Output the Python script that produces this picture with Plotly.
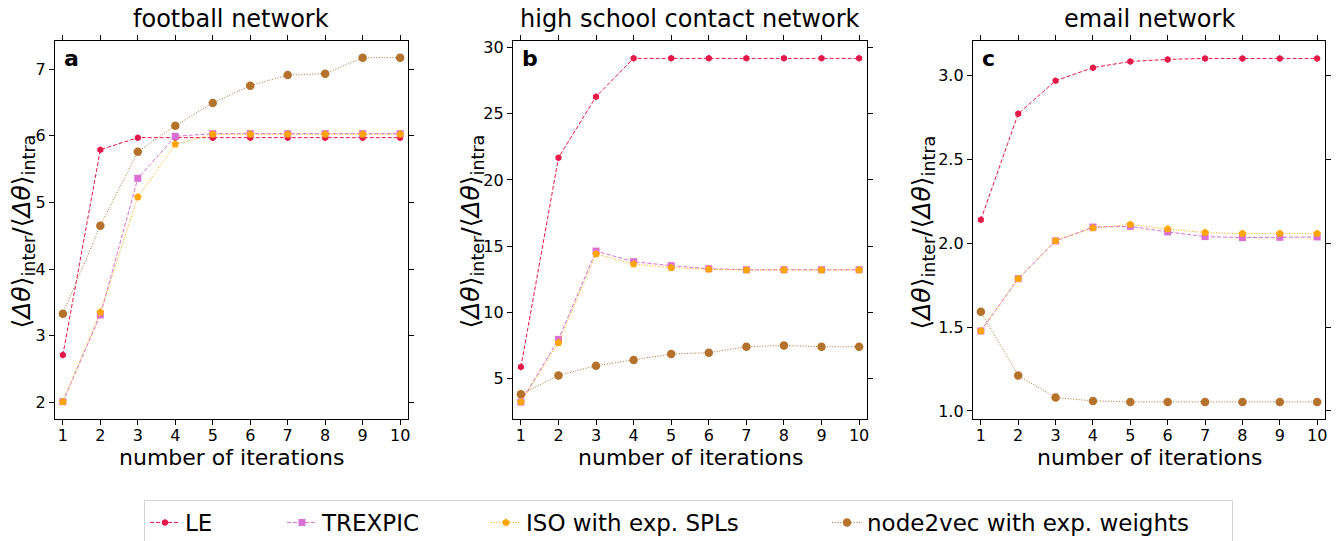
import plotly.graph_objects as go

# Iteration counts shared by all three panels
iterations = list(range(1, 11))

# football network
le_football = [2.71, 5.79, 5.97, 5.97, 5.97, 5.97, 5.97, 5.97, 5.97, 5.97]
trexpic_football = [2.01, 3.31, 5.36, 5.99, 6.03, 6.03, 6.03, 6.03, 6.03, 6.03]
iso_football = [2.01, 3.35, 5.08, 5.87, 6.02, 6.02, 6.02, 6.02, 6.02, 6.02]
n2v_football = [3.33, 4.65, 5.76, 6.15, 6.49, 6.75, 6.91, 6.93, 7.17, 7.17]

# high school contact network
le_school = [5.88, 21.68, 26.28, 29.17, 29.17, 29.17, 29.17, 29.17, 29.17, 29.17]
trexpic_school = [3.24, 7.97, 14.63, 13.83, 13.53, 13.30, 13.22, 13.22, 13.22, 13.22]
iso_school = [3.24, 7.72, 14.41, 13.65, 13.38, 13.25, 13.20, 13.20, 13.20, 13.20]
n2v_school = [3.82, 5.25, 5.98, 6.41, 6.86, 6.96, 7.41, 7.51, 7.41, 7.41]

# email network
le_email = [2.141, 2.773, 2.970, 3.048, 3.085, 3.097, 3.103, 3.103, 3.103, 3.103]
trexpic_email = [1.477, 1.789, 2.014, 2.097, 2.101, 2.068, 2.040, 2.034, 2.036, 2.038]
iso_email = [1.477, 1.789, 2.016, 2.091, 2.113, 2.085, 2.064, 2.058, 2.058, 2.058]
n2v_email = [1.592, 1.211, 1.080, 1.060, 1.054, 1.054, 1.054, 1.054, 1.054, 1.054]

panel_titles = ["football network", "high school contact network", "email network"]
panel_letters = ["a", "b", "c"]
method_names = ["LE", "TREXPIC", "ISO with exp. SPLs", "node2vec with exp. weights"]

panel_data = [
    [le_football, trexpic_football, iso_football, n2v_football],
    [le_school, trexpic_school, iso_school, n2v_school],
    [le_email, trexpic_email, iso_email, n2v_email],
]

y_ranges = [[1.75, 7.42], [1.96, 30.48], [0.952, 3.207]]
y_ticks = [[2, 3, 4, 5, 6, 7], [5, 10, 15, 20, 25, 30], [1.0, 1.5, 2.0, 2.5, 3.0]]
y_tickformat = ["d", "d", ".1f"]

styles = [
    dict(color="#E8174A", dash="4px,2px", symbol="hexagon", size=7),
    dict(color="#DA70D6", dash="4px,2px", symbol="square", size=7),
    dict(color="#FFA500", dash="1px,1.7px", symbol="pentagon", size=8),
    dict(color="#B4722D", dash="1px,1.7px", symbol="circle", size=8.5),
]
legend_widths = [92, 159, 296, 360]

W, H = 1341, 541
x_domains = [[55 / W, 408 / W], [513 / W, 867 / W], [973 / W, 1325 / W]]
y_domain = [1 - 419 / H, 1 - 41 / H]
# horizontal centre (px) of each rotated y-axis title
ytitle_x = [22.5, 471.5, 922.5]

FONT = "DejaVu Sans"
fig = go.Figure()

for p in range(3):
    sfx = "" if p == 0 else str(p + 1)
    for m in range(4):
        st = styles[m]
        fig.add_trace(go.Scatter(
            x=iterations, y=panel_data[p][m],
            mode="lines+markers",
            name=method_names[m],
            line=dict(color=st["color"], width=1, dash=st["dash"]),
            marker=dict(color=st["color"], symbol=st["symbol"], size=st["size"],
                        line=dict(width=0)),
            xaxis="x" + sfx, yaxis="y" + sfx,
            showlegend=(p == 0),
            legendwidth=legend_widths[m],
        ))

axis_common = dict(
    showline=True, linecolor="black", linewidth=1.3, mirror="allticks",
    ticks="outside", ticklen=5, tickwidth=1.2, tickcolor="black",
    showgrid=False, zeroline=False,
    tickfont=dict(family=FONT, size=16, color="black"),
)

layout = dict(
    width=W, height=H,
    margin=dict(l=0, r=0, t=0, b=0, autoexpand=False),
    paper_bgcolor="white", plot_bgcolor="white",
    font=dict(family=FONT, color="black"),
    legend=dict(
        orientation="h", x=144 / W, xanchor="left", y=1 - 500 / H, yanchor="top",
        font=dict(family=FONT, size=23, color="black"),
        bgcolor="white", bordercolor="#d4d4d4", borderwidth=1,
        entrywidthmode="pixels",
    ),
)

annotations = []
for p in range(3):
    sfx = "" if p == 0 else str(p + 1)
    layout["xaxis" + sfx] = dict(
        domain=x_domains[p], range=[0.79, 10.21], tickvals=iterations,
        anchor="y" + sfx, ticklabelstandoff=-3, **axis_common)
    layout["yaxis" + sfx] = dict(
        domain=y_domain, range=y_ranges[p], tickvals=y_ticks[p],
        tickformat=y_tickformat[p], anchor="x" + sfx, **axis_common)
    x0, x1 = x_domains[p]
    xc = (x0 + x1) / 2
    annotations.append(dict(
        text=panel_titles[p], xref="paper", yref="paper", x=xc, y=1 - 19 / H,
        xanchor="center", yanchor="middle", showarrow=False,
        font=dict(family=FONT, size=24, color="black")))
    annotations.append(dict(
        text="number of iterations", xref="paper", yref="paper", x=xc, y=1 - 457 / H,
        xanchor="center", yanchor="middle", showarrow=False,
        font=dict(family=FONT, size=22, color="black")))
    annotations.append(dict(
        text="<b>" + panel_letters[p] + "</b>", xref="paper", yref="paper",
        x=x0 + 7 / W, y=1 - 58 / H, xanchor="left", yanchor="middle", showarrow=False,
        font=dict(family=FONT, size=22, color="black")))
    annotations.append(dict(
        text="⟨<i>Δθ</i>⟩<sub>inter</sub>/⟨<i>Δθ</i>⟩<sub>intra</sub>",
        xref="paper", yref="paper", x=ytitle_x[p] / W, y=1 - 232 / H,
        xanchor="center", yanchor="middle", textangle=-90, showarrow=False,
        font=dict(family=FONT, size=25, color="black")))

layout["annotations"] = annotations
fig.update_layout(**layout)
fig.write_html("out.html")
